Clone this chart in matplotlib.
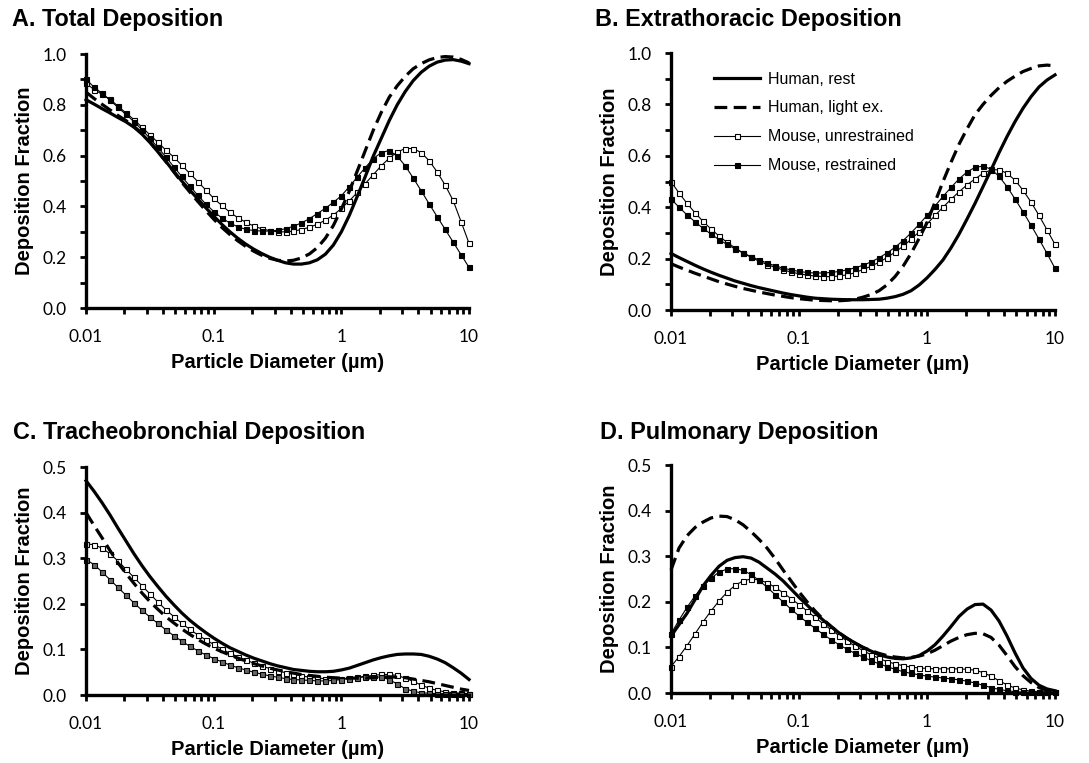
import numpy as np
import matplotlib
matplotlib.use("Agg")
import matplotlib.pyplot as plt
from matplotlib.ticker import LogLocator, NullFormatter, MultipleLocator, FormatStrFormatter
from matplotlib.lines import Line2D

plt.rcParams['font.family'] = ['Liberation Sans', 'DejaVu Sans']

# particle diameters (um), 16 points per decade from 0.01 to 10
diam = np.logspace(-2, 1, 49)

# A. total deposition
rest_A = [0.820, 0.803, 0.785, 0.768, 0.750, 0.733, 0.712, 0.685, 0.652, 0.615,
          0.577, 0.538, 0.500, 0.464, 0.430, 0.395, 0.362, 0.330, 0.301, 0.275,
          0.252, 0.232, 0.215, 0.200, 0.188, 0.178, 0.173, 0.173, 0.178, 0.190,
          0.212, 0.248, 0.300, 0.365, 0.440, 0.518, 0.598, 0.668, 0.738, 0.800,
          0.852, 0.895, 0.928, 0.952, 0.968, 0.976, 0.978, 0.972, 0.962]
light_A = [0.850, 0.825, 0.802, 0.780, 0.758, 0.738, 0.715, 0.688, 0.655, 0.617,
           0.577, 0.536, 0.495, 0.457, 0.420, 0.384, 0.350, 0.318, 0.290, 0.265,
           0.243, 0.224, 0.208, 0.196, 0.188, 0.185, 0.188, 0.197, 0.213, 0.238,
           0.275, 0.325, 0.390, 0.460, 0.540, 0.620, 0.700, 0.770, 0.830, 0.875,
           0.912, 0.942, 0.962, 0.977, 0.986, 0.990, 0.988, 0.979, 0.965]
unres_A = [0.885, 0.860, 0.842, 0.822, 0.795, 0.768, 0.742, 0.712, 0.682, 0.652,
           0.622, 0.594, 0.562, 0.530, 0.498, 0.465, 0.432, 0.404, 0.378, 0.356,
           0.338, 0.323, 0.312, 0.305, 0.300, 0.300, 0.303, 0.309, 0.318, 0.330,
           0.346, 0.366, 0.392, 0.422, 0.455, 0.490, 0.525, 0.560, 0.590, 0.614,
           0.628, 0.628, 0.612, 0.580, 0.536, 0.484, 0.424, 0.340, 0.255]
restr_A = [0.900, 0.870, 0.845, 0.818, 0.790, 0.762, 0.734, 0.702, 0.668, 0.632,
           0.595, 0.556, 0.518, 0.480, 0.444, 0.410, 0.380, 0.355, 0.335, 0.320,
           0.310, 0.305, 0.303, 0.303, 0.306, 0.312, 0.322, 0.335, 0.352, 0.372,
           0.393, 0.416, 0.442, 0.478, 0.516, 0.553, 0.588, 0.612, 0.620, 0.598,
           0.560, 0.512, 0.462, 0.410, 0.360, 0.310, 0.260, 0.210, 0.160]

# B. extrathoracic deposition
rest_B = [0.220, 0.204, 0.189, 0.174, 0.160, 0.147, 0.135, 0.124, 0.113, 0.104,
          0.095, 0.087, 0.080, 0.073, 0.066, 0.060, 0.055, 0.050, 0.046, 0.044,
          0.042, 0.041, 0.040, 0.040, 0.040, 0.041, 0.042, 0.046, 0.052, 0.061,
          0.075, 0.097, 0.125, 0.158, 0.195, 0.242, 0.295, 0.354, 0.415, 0.480,
          0.545, 0.612, 0.675, 0.733, 0.785, 0.830, 0.868, 0.895, 0.915]
light_B = [0.180, 0.167, 0.155, 0.143, 0.132, 0.121, 0.110, 0.101, 0.092, 0.084,
           0.077, 0.070, 0.064, 0.058, 0.053, 0.048, 0.044, 0.041, 0.038, 0.037,
           0.036, 0.036, 0.038, 0.042, 0.050, 0.060, 0.075, 0.098, 0.130, 0.170,
           0.220, 0.278, 0.340, 0.420, 0.500, 0.575, 0.645, 0.705, 0.760, 0.800,
           0.835, 0.865, 0.890, 0.910, 0.928, 0.940, 0.950, 0.953, 0.950]
unres_B = [0.500, 0.455, 0.415, 0.378, 0.345, 0.315, 0.288, 0.263, 0.242, 0.222,
           0.205, 0.190, 0.177, 0.166, 0.156, 0.148, 0.141, 0.136, 0.132, 0.130,
           0.130, 0.132, 0.137, 0.145, 0.158, 0.170, 0.186, 0.204, 0.225, 0.248,
           0.275, 0.304, 0.335, 0.368, 0.400, 0.431, 0.460, 0.487, 0.510, 0.532,
           0.545, 0.546, 0.532, 0.505, 0.466, 0.420, 0.368, 0.312, 0.255]
restr_B = [0.432, 0.400, 0.370, 0.343, 0.318, 0.295, 0.274, 0.255, 0.238, 0.222,
           0.208, 0.195, 0.183, 0.172, 0.163, 0.156, 0.150, 0.146, 0.144, 0.144,
           0.146, 0.150, 0.156, 0.164, 0.174, 0.187, 0.203, 0.222, 0.244, 0.270,
           0.300, 0.333, 0.368, 0.405, 0.442, 0.477, 0.510, 0.537, 0.555, 0.560,
           0.548, 0.520, 0.480, 0.432, 0.382, 0.330, 0.276, 0.220, 0.162]

# C. tracheobronchial deposition
rest_C = [0.470, 0.447, 0.422, 0.395, 0.366, 0.338, 0.310, 0.284, 0.260, 0.238,
          0.217, 0.198, 0.180, 0.164, 0.150, 0.137, 0.125, 0.114, 0.104, 0.096,
          0.088, 0.081, 0.075, 0.069, 0.064, 0.060, 0.056, 0.054, 0.052, 0.051,
          0.051, 0.052, 0.055, 0.059, 0.065, 0.071, 0.077, 0.082, 0.086, 0.089,
          0.090, 0.090, 0.089, 0.085, 0.079, 0.071, 0.060, 0.048, 0.034]
light_C = [0.400, 0.372, 0.345, 0.317, 0.290, 0.267, 0.245, 0.224, 0.205, 0.188,
           0.172, 0.158, 0.145, 0.133, 0.122, 0.112, 0.103, 0.095, 0.088, 0.081,
           0.075, 0.069, 0.064, 0.059, 0.055, 0.051, 0.048, 0.045, 0.043, 0.041,
           0.039, 0.038, 0.037, 0.037, 0.037, 0.037, 0.038, 0.039, 0.040, 0.039,
           0.038, 0.035, 0.032, 0.029, 0.025, 0.021, 0.017, 0.013, 0.010]
unres_C = [0.331, 0.330, 0.322, 0.310, 0.294, 0.276, 0.258, 0.240, 0.222, 0.204,
           0.187, 0.172, 0.157, 0.144, 0.132, 0.121, 0.111, 0.101, 0.092, 0.084,
           0.077, 0.070, 0.064, 0.058, 0.053, 0.049, 0.045, 0.042, 0.039, 0.037,
           0.036, 0.036, 0.036, 0.037, 0.039, 0.041, 0.043, 0.045, 0.045, 0.043,
           0.037, 0.030, 0.022, 0.015, 0.010, 0.007, 0.005, 0.004, 0.003]
restr_C = [0.297, 0.286, 0.270, 0.253, 0.236, 0.219, 0.202, 0.186, 0.171, 0.157,
           0.143, 0.130, 0.118, 0.107, 0.097, 0.088, 0.080, 0.073, 0.066, 0.060,
           0.055, 0.050, 0.046, 0.042, 0.039, 0.036, 0.034, 0.033, 0.032, 0.031,
           0.031, 0.032, 0.034, 0.036, 0.038, 0.040, 0.040, 0.039, 0.034, 0.024,
           0.014, 0.008, 0.005, 0.004, 0.003, 0.003, 0.003, 0.003, 0.003]

# D. pulmonary deposition
rest_D = [0.125, 0.150, 0.175, 0.205, 0.235, 0.258, 0.278, 0.291, 0.297, 0.299,
          0.296, 0.287, 0.274, 0.261, 0.246, 0.228, 0.210, 0.193, 0.176, 0.160,
          0.146, 0.132, 0.120, 0.110, 0.100, 0.092, 0.084, 0.079, 0.076, 0.075,
          0.077, 0.082, 0.092, 0.106, 0.125, 0.146, 0.168, 0.184, 0.194, 0.195,
          0.182, 0.158, 0.125, 0.088, 0.055, 0.032, 0.017, 0.009, 0.005]
light_D = [0.270, 0.318, 0.345, 0.363, 0.375, 0.384, 0.388, 0.387, 0.380, 0.369,
           0.354, 0.337, 0.318, 0.295, 0.270, 0.246, 0.222, 0.200, 0.180, 0.162,
           0.146, 0.132, 0.120, 0.109, 0.100, 0.093, 0.087, 0.082, 0.079, 0.077,
           0.078, 0.081, 0.086, 0.094, 0.104, 0.114, 0.122, 0.128, 0.131, 0.130,
           0.122, 0.105, 0.082, 0.058, 0.038, 0.023, 0.012, 0.006, 0.003]
unres_D = [0.058, 0.080, 0.104, 0.130, 0.156, 0.180, 0.202, 0.221, 0.236, 0.246,
           0.250, 0.248, 0.242, 0.232, 0.220, 0.207, 0.194, 0.180, 0.166, 0.152,
           0.139, 0.126, 0.114, 0.103, 0.093, 0.084, 0.076, 0.069, 0.064, 0.060,
           0.057, 0.055, 0.054, 0.053, 0.053, 0.053, 0.053, 0.052, 0.050, 0.045,
           0.037, 0.027, 0.018, 0.011, 0.007, 0.004, 0.003, 0.002, 0.002]
restr_D = [0.130, 0.160, 0.188, 0.213, 0.235, 0.252, 0.265, 0.272, 0.273, 0.269,
           0.260, 0.247, 0.232, 0.216, 0.200, 0.184, 0.169, 0.155, 0.142, 0.129,
           0.117, 0.106, 0.096, 0.087, 0.079, 0.071, 0.064, 0.058, 0.052, 0.047,
           0.043, 0.040, 0.037, 0.035, 0.033, 0.031, 0.029, 0.026, 0.022, 0.017,
           0.012, 0.008, 0.005, 0.003, 0.002, 0.002, 0.002, 0.002, 0.002]

labels = ['Human, rest', 'Human, light ex.', 'Mouse, unrestrained', 'Mouse, restrained']


def draw_panel(ax, rest, light, unres, restr, ymax, ymajor, yminor, restr_face='black'):
    ax.plot(diam, unres, '-', color='black', lw=0.8, marker='s', ms=3.6,
            mfc='white', mec='black', mew=0.8, clip_on=False)
    ax.plot(diam, restr, '-', color='black', lw=0.8, marker='s', ms=3.6,
            mfc=restr_face, mec='black', mew=0.8, clip_on=False)
    ax.plot(diam, rest, '-', color='black', lw=2.3, clip_on=False)
    ax.plot(diam, light, '--', color='black', lw=2.3, dashes=(4, 2), clip_on=False)

    ax.set_xscale('log')
    ax.set_xlim(0.01, 10)
    ax.set_ylim(0, ymax)
    ax.set_xticks([0.01, 0.1, 1, 10])
    ax.set_xticklabels(['0.01', '0.1', '1', '10'])
    ax.xaxis.set_minor_locator(LogLocator(base=10, subs=range(2, 10)))
    ax.xaxis.set_minor_formatter(NullFormatter())
    ax.yaxis.set_major_locator(MultipleLocator(ymajor))
    ax.yaxis.set_major_formatter(FormatStrFormatter('%.1f'))
    if yminor:
        ax.yaxis.set_minor_locator(MultipleLocator(yminor))

    for s in ['top', 'right']:
        ax.spines[s].set_visible(False)
    for s in ['left', 'bottom']:
        ax.spines[s].set_linewidth(2.4)
    ax.tick_params(which='both', direction='out', length=4, width=2)
    ax.tick_params(axis='x', which='major', pad=11, labelsize=12.5)
    ax.tick_params(axis='y', which='major', pad=10, labelsize=12.5)
    for lbl in ax.get_xticklabels() + ax.get_yticklabels():
        lbl.set_fontfamily('Lato')

    ax.set_xlabel('Particle Diameter (µm)', fontsize=14.5, fontweight='bold', labelpad=6)
    ax.set_ylabel('Deposition Fraction', fontsize=14.5, fontweight='bold', labelpad=6)


fig = plt.figure(figsize=(10.89, 7.63), dpi=100)

axA = fig.add_axes([0.079, 0.5963, 0.3517, 0.3329])
axB = fig.add_axes([0.6162, 0.5937, 0.3526, 0.3368])
axC = fig.add_axes([0.079, 0.0891, 0.3517, 0.2988])
axD = fig.add_axes([0.6162, 0.0917, 0.3526, 0.2988])

draw_panel(axA, rest_A, light_A, unres_A, restr_A, 1.0, 0.2, 0.1)
draw_panel(axB, rest_B, light_B, unres_B, restr_B, 1.0, 0.2, 0.1)
draw_panel(axC, rest_C, light_C, unres_C, restr_C, 0.5, 0.1, None, restr_face='0.4')
draw_panel(axD, rest_D, light_D, unres_D, restr_D, 0.5, 0.1, None)

fig.text(0.011, 0.966, 'A. Total Deposition', fontsize=16.8, fontweight='bold')
fig.text(0.546, 0.966, 'B. Extrathoracic Deposition', fontsize=16.8, fontweight='bold')
fig.text(0.012, 0.424, 'C. Tracheobronchial Deposition', fontsize=16.8, fontweight='bold')
fig.text(0.551, 0.424, 'D. Pulmonary Deposition', fontsize=16.8, fontweight='bold')

# legend only in panel B
handles = [
    Line2D([], [], color='black', lw=2.3),
    Line2D([], [], color='black', lw=2.3, dashes=(4, 2)),
    Line2D([], [], color='black', lw=0.8, marker='s', ms=3.6, mfc='white', mec='black', mew=0.8),
    Line2D([], [], color='black', lw=0.8, marker='s', ms=3.6, mfc='black', mec='black', mew=0.8),
]
axB.legend(handles, labels, loc='upper left', bbox_to_anchor=(0.112, 0.928), frameon=False,
           fontsize=11.5, handlelength=2.9, handletextpad=0.5, labelspacing=0.87,
           borderpad=0, borderaxespad=0, numpoints=1)

fig.savefig('out.png', dpi=100)
